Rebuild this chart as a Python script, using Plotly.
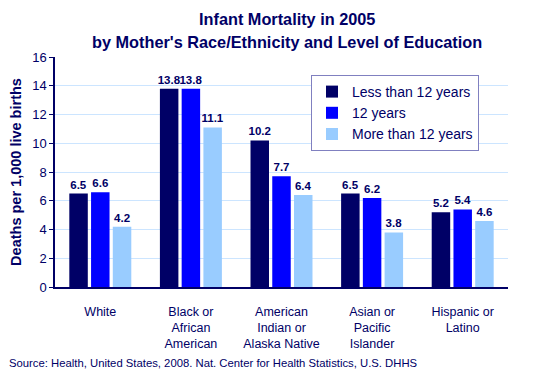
import plotly.graph_objects as go

categories = ["White", "Black or<br>African<br>American", "American<br>Indian or<br>Alaska Native",
              "Asian or<br>Pacific<br>Islander", "Hispanic or<br>Latino"]
less_than_12 = [6.5, 13.8, 10.2, 6.5, 5.2]
twelve = [6.6, 13.8, 7.7, 6.2, 5.4]
more_than_12 = [4.2, 11.1, 6.4, 3.8, 4.6]
series_names = ["Less than 12 years", "12 years", "More than 12 years"]
colors = ["#000066", "#0000FF", "#99CCFF"]
title_lines = ["Infant Mortality in 2005", "by Mother's Race/Ethnicity and Level of Education"]
source_text = "Source: Health, United States, 2008. Nat. Center for Health Statistics, U.S. DHHS"

NAVY = "#000066"
FONT = "Liberation Sans, Arial, sans-serif"

L, R, T, B = 55, 42, 57, 90
PH = 377 - T - B
PW = 550 - L - R

fig = go.Figure()
for name, vals, col in zip(series_names, [less_than_12, twelve, more_than_12], colors):
    fig.add_trace(go.Bar(
        x=categories, y=vals, name=name, marker_color=col,
        marker_line_width=0,
        text=[f"<b>{v:.1f}</b>" for v in vals], textposition="outside",
        constraintext="none",
        textfont=dict(family=FONT, size=11.5, color=NAVY),
        cliponaxis=False,
    ))

fig.update_layout(
    width=550, height=377,
    margin=dict(l=L, r=R, t=T, b=B),
    paper_bgcolor="white", plot_bgcolor="white",
    font=dict(family=FONT, color=NAVY),
    barmode="group", bargap=0.28, bargroupgap=0.15,
    showlegend=True,
    legend=dict(x=(479 - L) / PW, y=1 - (75 - T) / PH, xanchor="right", yanchor="top",
                bgcolor="white", bordercolor="#8080C0", borderwidth=1,
                font=dict(family=FONT, size=14, color=NAVY),
                itemwidth=30, tracegroupgap=0),
)
fig.update_yaxes(range=[0, 16], dtick=2, showgrid=True, gridcolor="#CCE5FF", gridwidth=1,
                 showline=True, linecolor=NAVY, linewidth=1.5, ticks="outside", ticklen=4,
                 tickcolor=NAVY, tickfont=dict(family=FONT, size=13, color=NAVY),
                 title=dict(text="<b>Deaths per 1,000 live births</b>", standoff=7,
                            font=dict(family=FONT, size=14.5, color=NAVY)),
                 zeroline=False)
fig.update_xaxes(showline=True, linecolor=NAVY, linewidth=1.5, ticks="",
                 ticklabelstandoff=12,
                 tickfont=dict(family=FONT, size=12.5, color=NAVY))

for i, (line, ypix) in enumerate(zip(title_lines, [19.5, 42.3])):
    fig.add_annotation(text=f"<b>{line}</b>", xref="paper", yref="paper",
                       x=(287 - L) / PW, y=1 + (T - ypix) / PH, xanchor="center", yanchor="middle",
                       showarrow=False, font=dict(family=FONT, size=16.3, color=NAVY))

fig.add_annotation(text=source_text,
                   xref="paper", yref="paper", x=(7 - L) / PW, y=-(363 - T - PH) / PH,
                   xanchor="left", yanchor="middle",
                   showarrow=False, font=dict(family=FONT, size=11.3, color=NAVY))

fig.write_html("out.html", config={"displayModeBar": False},
               post_script="document.body.style.margin='0';document.body.style.padding='0';")
